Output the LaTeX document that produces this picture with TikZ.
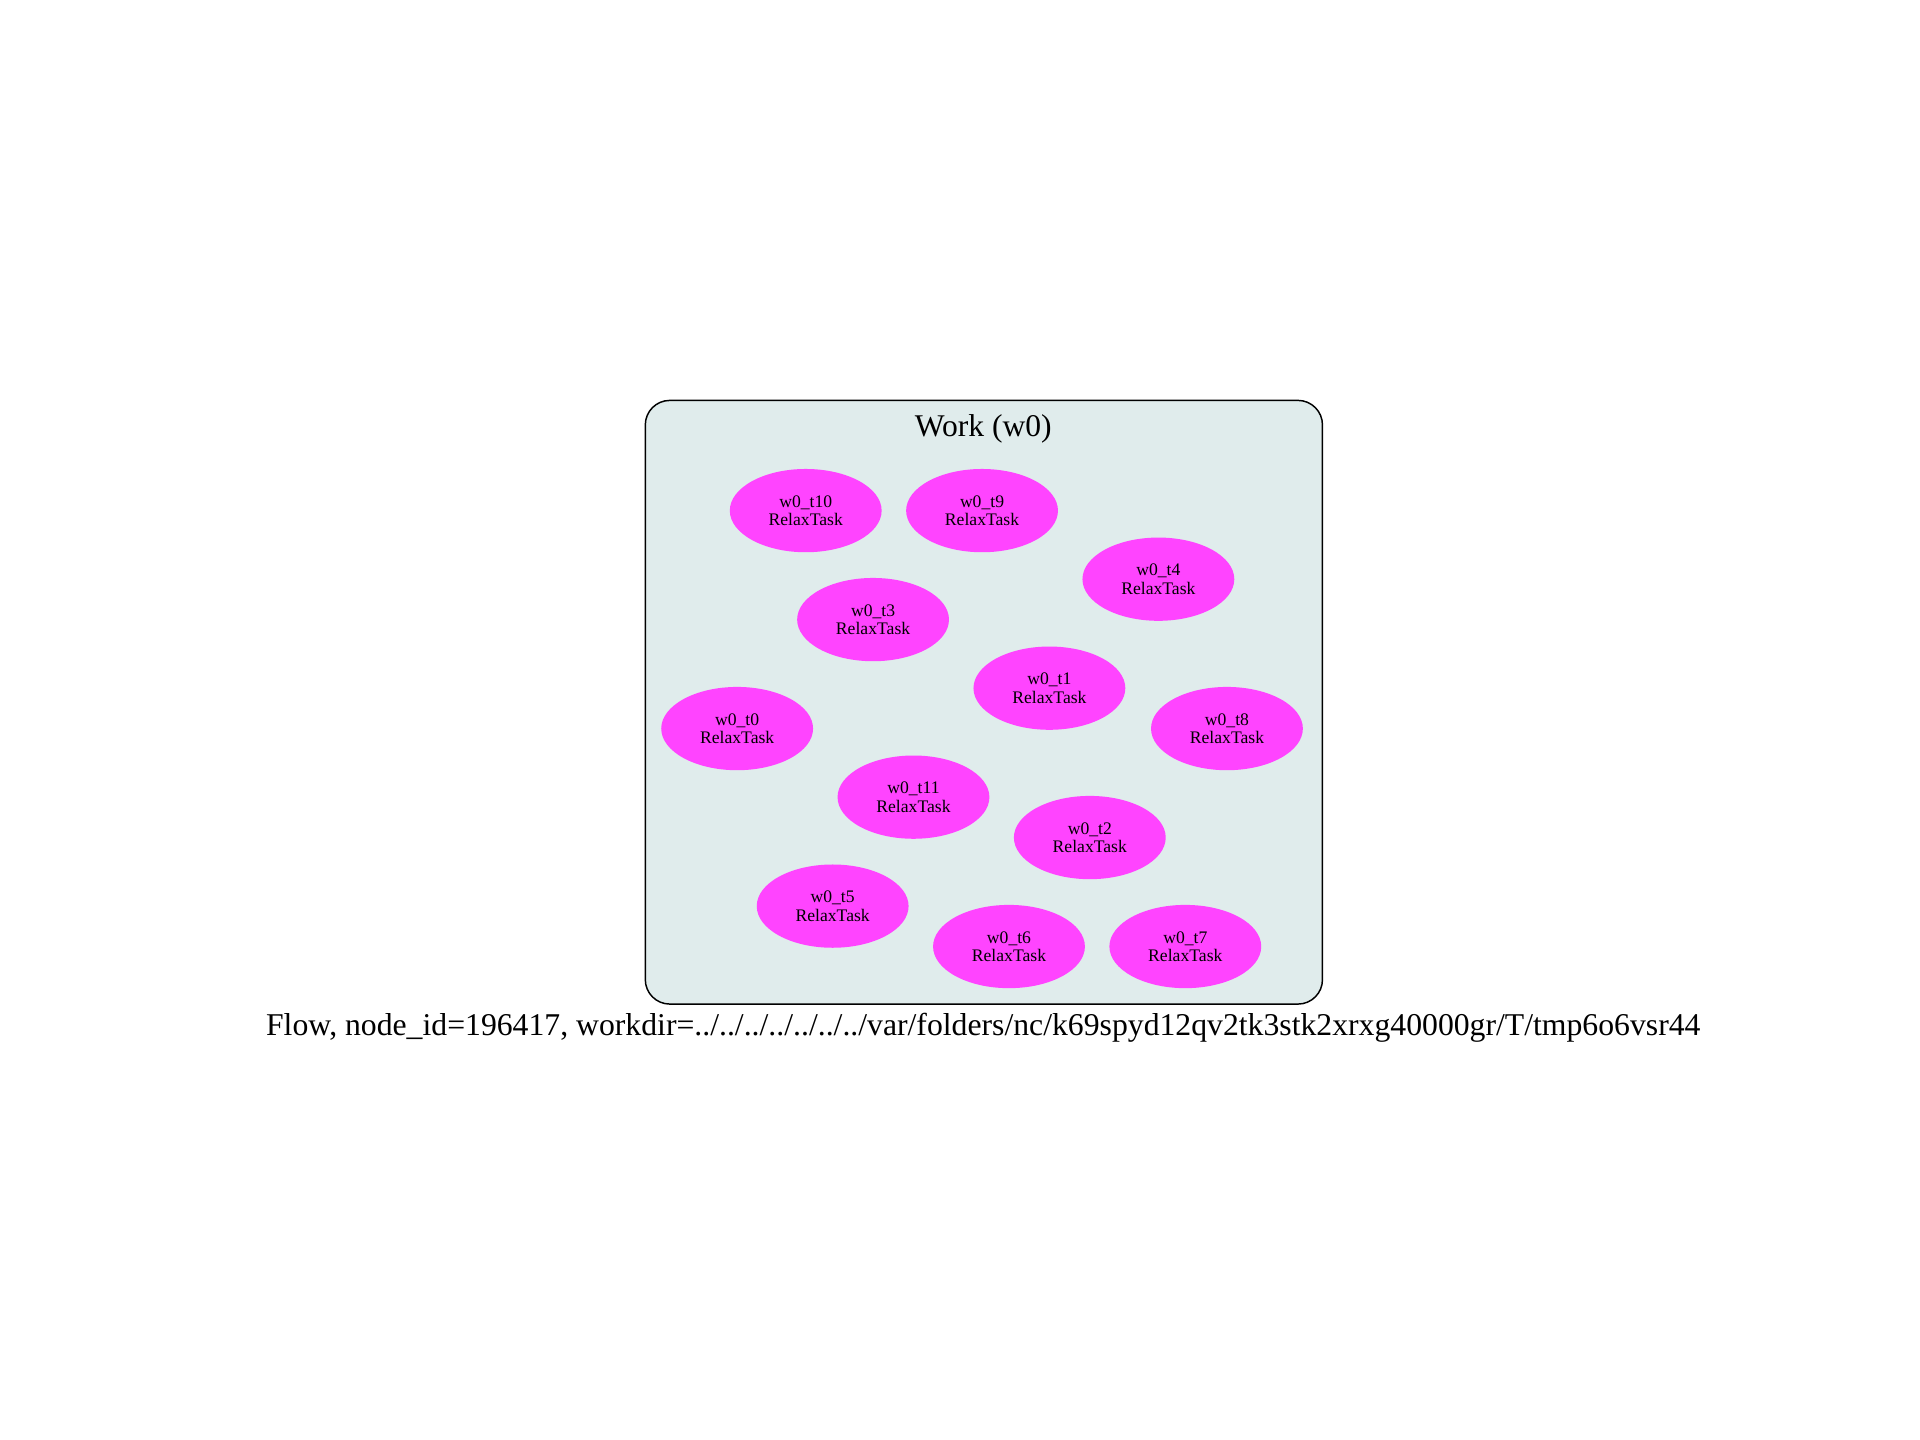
\documentclass[tikz,border=0pt]{standalone}
\usepackage{fontspec}
\setmainfont{Liberation Serif}
\usetikzlibrary{positioning,shapes.geometric}
\definecolor{clusterbg}{RGB}{224,236,236}
\definecolor{taskpink}{RGB}{255,68,255}

\begin{document}
\begin{tikzpicture}[x=0.5pt,y=-0.5pt,
  task/.style={ellipse, fill=taskpink, minimum width=62pt, minimum height=34pt, inner sep=0pt, align=center, font=\fontsize{7.2}{7.6}\selectfont},
  cluster/.style={draw, fill=clusterbg, rounded corners=10pt, line width=0.6pt, minimum width=276.5pt, minimum height=246.5pt, inner sep=0pt}
]
\useasboundingbox (0,0) rectangle (1568,1176);
\node[cluster] (w0) at (803.5,573.5) {};
\node[font=\fontsize{12.9}{14}\selectfont] (title) at (803,350) {Work (w0)};

\node[task] (t10) at (658,417) {w0\_t10\\RelaxTask};
\node[task] (t9) at (802,417) {w0\_t9\\RelaxTask};
\node[task] (t4) at (946,473) {w0\_t4\\RelaxTask};
\node[task] (t3) at (713,506) {w0\_t3\\RelaxTask};
\node[task] (t1) at (857,562) {w0\_t1\\RelaxTask};
\node[task] (t0) at (602,595) {w0\_t0\\RelaxTask};
\node[task] (t8) at (1002,595) {w0\_t8\\RelaxTask};
\node[task] (t11) at (746,651) {w0\_t11\\RelaxTask};
\node[task] (t2) at (890,684) {w0\_t2\\RelaxTask};
\node[task] (t5) at (680,740) {w0\_t5\\RelaxTask};
\node[task] (t6) at (824,773) {w0\_t6\\RelaxTask};
\node[task] (t7) at (968,773) {w0\_t7\\RelaxTask};

\node[font=\fontsize{12.95}{14}\selectfont] (caption) at (803,839) {Flow, node\_id=196417, workdir=../../../../../../../var/folders/nc/k69spyd12qv2tk3stk2xrxg40000gr/T/tmp6o6vsr44};
\end{tikzpicture}
\end{document}
